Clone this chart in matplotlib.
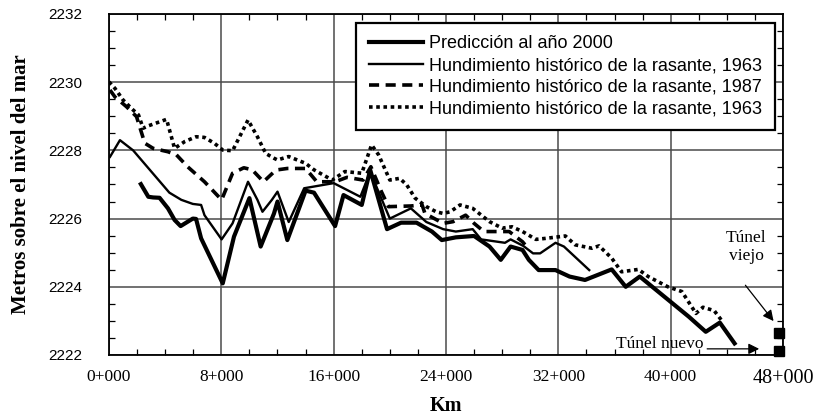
import matplotlib.pyplot as plt
from matplotlib.ticker import MultipleLocator

# Perfil de la rasante (km, m s.n.m.)
km_pred = [2.27, 2.8, 3.14, 3.6, 4.2, 4.67, 5.1, 5.97, 6.2, 6.56, 8.1, 8.9, 10.0, 10.8,
           11.75, 12.0, 12.7, 14.0, 14.6, 16.1, 16.7, 18.0, 18.6, 19.8, 20.8, 21.9, 23.0,
           23.7, 24.7, 26.0, 27.1, 27.9, 28.6, 29.45, 29.9, 30.6, 31.8, 32.8, 33.9, 35.8,
           36.8, 37.8, 41.3, 42.5, 43.5, 44.55]
z_pred = [2227.01, 2226.64, 2226.62, 2226.61, 2226.3, 2225.96, 2225.78, 2226.0, 2225.99,
          2225.42, 2224.1, 2225.47, 2226.6, 2225.18, 2226.15, 2226.5, 2225.37, 2226.82,
          2226.76, 2225.78, 2226.69, 2226.4, 2227.43, 2225.69, 2225.88, 2225.88, 2225.62,
          2225.37, 2225.45, 2225.49, 2225.18, 2224.79, 2225.18, 2225.08, 2224.79, 2224.49,
          2224.49, 2224.3, 2224.2, 2224.51, 2224.0, 2224.3, 2223.12, 2222.68, 2222.95, 2222.34]

km_1963 = [0.07, 0.78, 1.72, 4.3, 5.15, 5.97, 6.56, 6.8, 8.02, 8.8, 9.9, 10.57, 10.93, 11.6,
           12.0, 12.8, 13.9, 16.0, 17.9, 18.6, 20.0, 21.5, 22.6, 23.8, 24.7, 25.9, 26.5,
           28.2, 28.6, 29.5, 30.2, 30.7, 31.8, 32.4, 34.2]
z_1963 = [2227.81, 2228.3, 2228.0, 2226.76, 2226.55, 2226.43, 2226.4, 2226.1, 2225.39,
          2225.86, 2227.08, 2226.55, 2226.2, 2226.55, 2226.79, 2225.9, 2226.89, 2227.04,
          2226.64, 2227.37, 2226.0, 2226.3, 2225.9, 2225.69, 2225.62, 2225.69, 2225.39,
          2225.29, 2225.39, 2225.2, 2224.98, 2224.98, 2225.29, 2225.18, 2224.49]

km_1987 = [0.07, 0.42, 1.25, 1.96, 2.55, 3.14, 4.2, 4.8, 5.6, 6.8, 8.02, 8.8, 9.6, 10.2,
           11.0, 11.75, 12.0, 12.7, 14.0, 14.8, 16.1, 16.95, 18.1, 18.65, 19.4, 19.9, 21.5,
           22.3, 22.5, 23.8, 24.5, 25.4, 26.0, 26.7, 28.5, 29.45, 29.9]
z_1987 = [2229.77, 2229.57, 2229.28, 2228.99, 2228.21, 2228.06, 2227.96, 2227.87, 2227.52,
          2227.08, 2226.55, 2227.33, 2227.49, 2227.43, 2227.08, 2227.37, 2227.43, 2227.47,
          2227.47, 2227.08, 2227.08, 2227.21, 2227.13, 2227.52, 2226.79, 2226.35, 2226.37,
          2226.4, 2226.15, 2225.86, 2225.91, 2226.1, 2225.86, 2225.62, 2225.62, 2225.32,
          2225.1]

km_1963b = [0.0, 0.42, 1.0, 1.6, 2.1, 2.43, 2.8, 4.1, 4.67, 5.4, 6.2, 6.8, 7.5, 8.1, 8.8,
            9.9, 10.57, 11.16, 11.75, 12.0, 12.8, 14.0, 14.6, 15.9, 16.8, 18.0, 18.7, 19.2,
            20.0, 20.7, 21.2, 21.8, 22.6, 23.3, 23.8, 24.3, 25.0, 25.9, 27.1, 28.0, 28.7,
            29.45, 30.4, 31.1, 32.5, 33.2, 34.4, 34.9, 35.8, 36.5, 37.7, 38.4, 39.8, 40.8,
            41.8, 42.3, 43.1, 43.6]
z_1963b = [2230.01, 2229.82, 2229.48, 2229.23, 2229.04, 2228.65, 2228.72, 2228.91, 2228.06,
           2228.26, 2228.4, 2228.38, 2228.21, 2228.01, 2227.99, 2228.89, 2228.4, 2227.91,
           2227.77, 2227.72, 2227.82, 2227.62, 2227.43, 2227.13, 2227.38, 2227.33, 2228.16,
           2227.87, 2227.13, 2227.18, 2226.99, 2226.6, 2226.35, 2226.2, 2226.15, 2226.2,
           2226.4, 2226.3, 2225.91, 2225.72, 2225.76, 2225.62, 2225.39, 2225.42, 2225.49,
           2225.23, 2225.13, 2225.2, 2224.84, 2224.44, 2224.51, 2224.3, 2224.0, 2223.86,
           2223.22, 2223.4, 2223.3, 2223.03]

# portales de los tuneles
km_tuneles = [47.7, 47.7]
z_tuneles = [2222.65, 2222.13]

xticks = [0, 8, 16, 24, 32, 40, 48]
xtick_labels = ['0+000', '8+000', '16+000', '24+000', '32+000', '40+000', '48+000']

serif = 'Liberation Serif'
sans = 'Liberation Sans'

fig = plt.figure(figsize=(8.27, 4.15), dpi=100)
ax = fig.add_axes([0.1318, 0.1446, 0.8150, 0.8217])

ax.plot(km_pred, z_pred, color='black', lw=3.0, label='Predicción al año 2000')
ax.plot(km_1963, z_1963, color='black', lw=1.7, label='Hundimiento histórico de la rasante, 1963')
ax.plot(km_1987, z_1987, color='black', lw=2.6, ls=(0, (2.8, 1.8)),
        label='Hundimiento histórico de la rasante, 1987')
ax.plot(km_1963b, z_1963b, color='black', lw=2.6, ls=(0, (1, 1)),
        label='Hundimiento histórico de la rasante, 1963')
ax.plot(km_tuneles, z_tuneles, 's', color='black', ms=7, clip_on=False)

ax.set_xlim(0, 48)
ax.set_ylim(2222, 2232)
ax.set_xticks(xticks)
ax.set_xticklabels(xtick_labels, fontname=serif, fontsize=12.5)
ax.get_xticklabels()[-1].set_fontsize(14.5)
ax.xaxis.set_minor_locator(MultipleLocator(2))
ax.yaxis.set_major_locator(MultipleLocator(2))
ax.yaxis.set_minor_locator(MultipleLocator(0.5))
for lab in ax.get_yticklabels():
    lab.set_fontname(sans)
    lab.set_fontsize(11)

ax.tick_params(which='both', direction='in', top=True, right=True, color='black')
ax.tick_params(which='major', length=0)
ax.tick_params(which='minor', length=4.5, width=0.9)
ax.tick_params(axis='x', which='major', pad=10)
ax.tick_params(axis='y', which='major', pad=19)

ax.grid(True, which='major', color='#4a4a4a', lw=1.1)
for sp in ax.spines.values():
    sp.set_linewidth(1.3)
    sp.set_color('black')

ax.set_ylabel('Metros sobre el nivel del mar', fontname=serif, fontweight='bold',
              fontsize=15, labelpad=13)
ax.set_xlabel('Km', fontname=serif, fontweight='bold', fontsize=14.5, labelpad=6)

leg = ax.legend(loc='upper left', bbox_to_anchor=(0.367, 0.974), borderaxespad=0,
                fancybox=False, edgecolor='black', framealpha=1,
                prop={'family': sans, 'size': 13}, handlelength=3.0,
                handletextpad=0.35, labelspacing=0.25, borderpad=0.7)
leg.get_frame().set_linewidth(1.6)

# anotaciones de los tuneles
ax.text(45.4, 2225.17, 'Túnel\nviejo', ha='center', va='center', fontname=serif,
        fontsize=12.5, linespacing=1.15)
ax.annotate('', xy=(47.45, 2222.93), xytext=(45.2, 2224.11),
            arrowprops=dict(arrowstyle='-|>', color='black', lw=0.9, mutation_scale=16))
ax.text(39.2, 2222.33, 'Túnel nuevo', ha='center', va='center', fontname=serif, fontsize=12.5)
ax.annotate('', xy=(46.5, 2222.18), xytext=(42.4, 2222.18),
            arrowprops=dict(arrowstyle='-|>', color='black', lw=0.9, mutation_scale=16))

fig.savefig('out.png', dpi=100)
